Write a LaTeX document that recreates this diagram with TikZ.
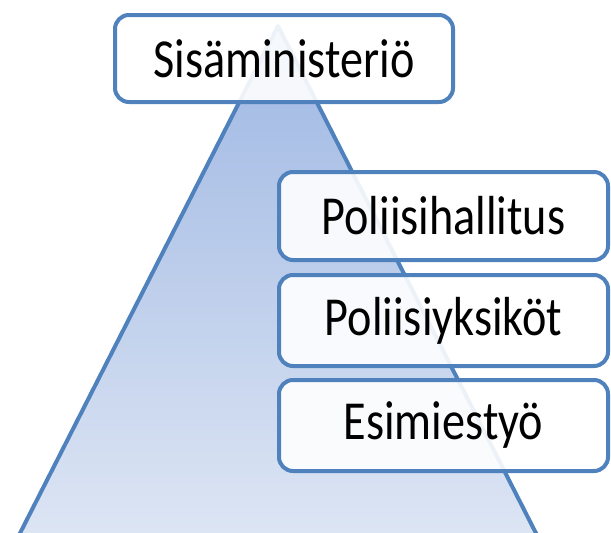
\documentclass[tikz,border=0pt]{standalone}
\usepackage{fontspec}
\setmainfont{Carlito}[FakeStretch=0.84]
\definecolor{edgeblue}{HTML}{4F81BD}
\definecolor{topblue}{HTML}{9EB7E3}
\definecolor{botblue}{HTML}{DEE6F4}
\tikzset{
  levelbox/.style={rectangle, rounded corners=14pt, draw=edgeblue, line width=4pt,
    fill=white, fill opacity=0.9, text opacity=1, text=black,
    font=\fontsize{55}{64}\selectfont, inner sep=0pt, anchor=center},
  pyr/.style={draw=edgeblue, line width=4pt, line join=round}
}
\begin{document}
\begin{tikzpicture}[x=1pt,y=-1pt]
\useasboundingbox (0,0) rectangle (611,533);
\begin{scope}
\clip (0,0) rectangle (611,533);
\coordinate (apex) at (278,26);
\coordinate (bl) at (14,545);
\coordinate (br) at (542,545);
\shade[top color=topblue, bottom color=botblue] (apex) -- (bl) -- (br) -- cycle;
\draw[pyr] (bl) -- (apex) -- (br);
\node[levelbox, minimum width=338pt, minimum height=87pt] (sm) at (284,58.5) {Sisäministeriö};
\node[levelbox, minimum width=329pt, minimum height=88pt] (ph) at (443.5,216) {Poliisihallitus};
\node[levelbox, minimum width=329pt, minimum height=91pt] (py) at (443.5,320.5) {Poliisiyksiköt};
\node[levelbox, minimum width=329pt, minimum height=91pt] (et) at (443.5,425.5) {Esimiestyö};
\end{scope}
\end{tikzpicture}
\end{document}
